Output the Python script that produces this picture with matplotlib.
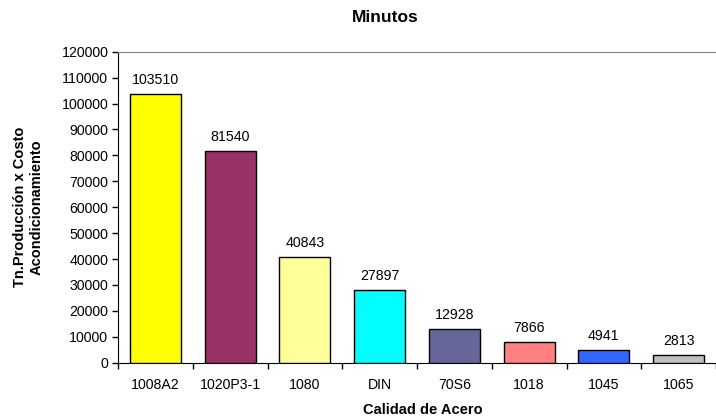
import matplotlib
matplotlib.use("Agg")
import matplotlib.pyplot as plt
import numpy as np

categories = ["1008A2", "1020P3-1", "1080", "DIN", "70S6", "1018", "1045", "1065"]
values = [103510, 81540, 40843, 27897, 12928, 7866, 4941, 2813]
colors = ["#FFFF00", "#993366", "#FFFF99", "#00FFFF", "#666699", "#FF8080", "#3366FF", "#C0C0C0"]
y_ticks = list(range(0, 120001, 10000))

plt.rcParams["font.family"] = ["Liberation Sans", "DejaVu Sans"]

fig = plt.figure(figsize=(7.16, 4.16), dpi=100)
ax = fig.add_axes([118 / 716, 1 - 362.7 / 416, (716 - 118) / 716, 311 / 416])

x = np.arange(len(categories))
ax.bar(x, values, width=0.68, color=colors, edgecolor="black", linewidth=1.0, zorder=3)
for xi, v in zip(x, values):
    ax.annotate(f"{v}", (xi, v), xytext=(0, 5), textcoords="offset points",
                ha="center", va="bottom", fontsize=10.2)

ax.set_xlim(-0.5, 7.34)
ax.set_ylim(0, 120000)
ax.set_yticks(y_ticks)
ax.set_yticklabels([str(t) for t in y_ticks], fontsize=10.2)
ax.set_xticks(x)
ax.set_xticklabels(categories, fontsize=10.2)
ax.set_xticks(np.arange(len(categories) + 1) - 0.5, minor=True)
ax.tick_params(axis="x", which="major", length=0, pad=11)
ax.tick_params(axis="x", which="minor", length=4, width=1, direction="out")
ax.tick_params(axis="y", length=4, width=1, direction="out", pad=3)

ax.spines["left"].set_color("black")
ax.spines["bottom"].set_color("black")
ax.spines["top"].set_color("#808080")
ax.spines["right"].set_visible(False)

ax.set_xlabel("Calidad de Acero", fontsize=10.5, fontweight="bold")
ax.xaxis.set_label_coords(0.509, -0.128)
ax.set_ylabel("Tn.Producción x Costo\nAcondicionamiento", fontsize=10.5, fontweight="bold",
              linespacing=1.3)
ax.yaxis.set_label_coords(-0.124, 0.5)
fig.text(385 / 716, 1 - 18 / 416, "Minutos", ha="center", va="center",
         fontsize=12.5, fontweight="bold")

fig.savefig("out.png", dpi=100)
